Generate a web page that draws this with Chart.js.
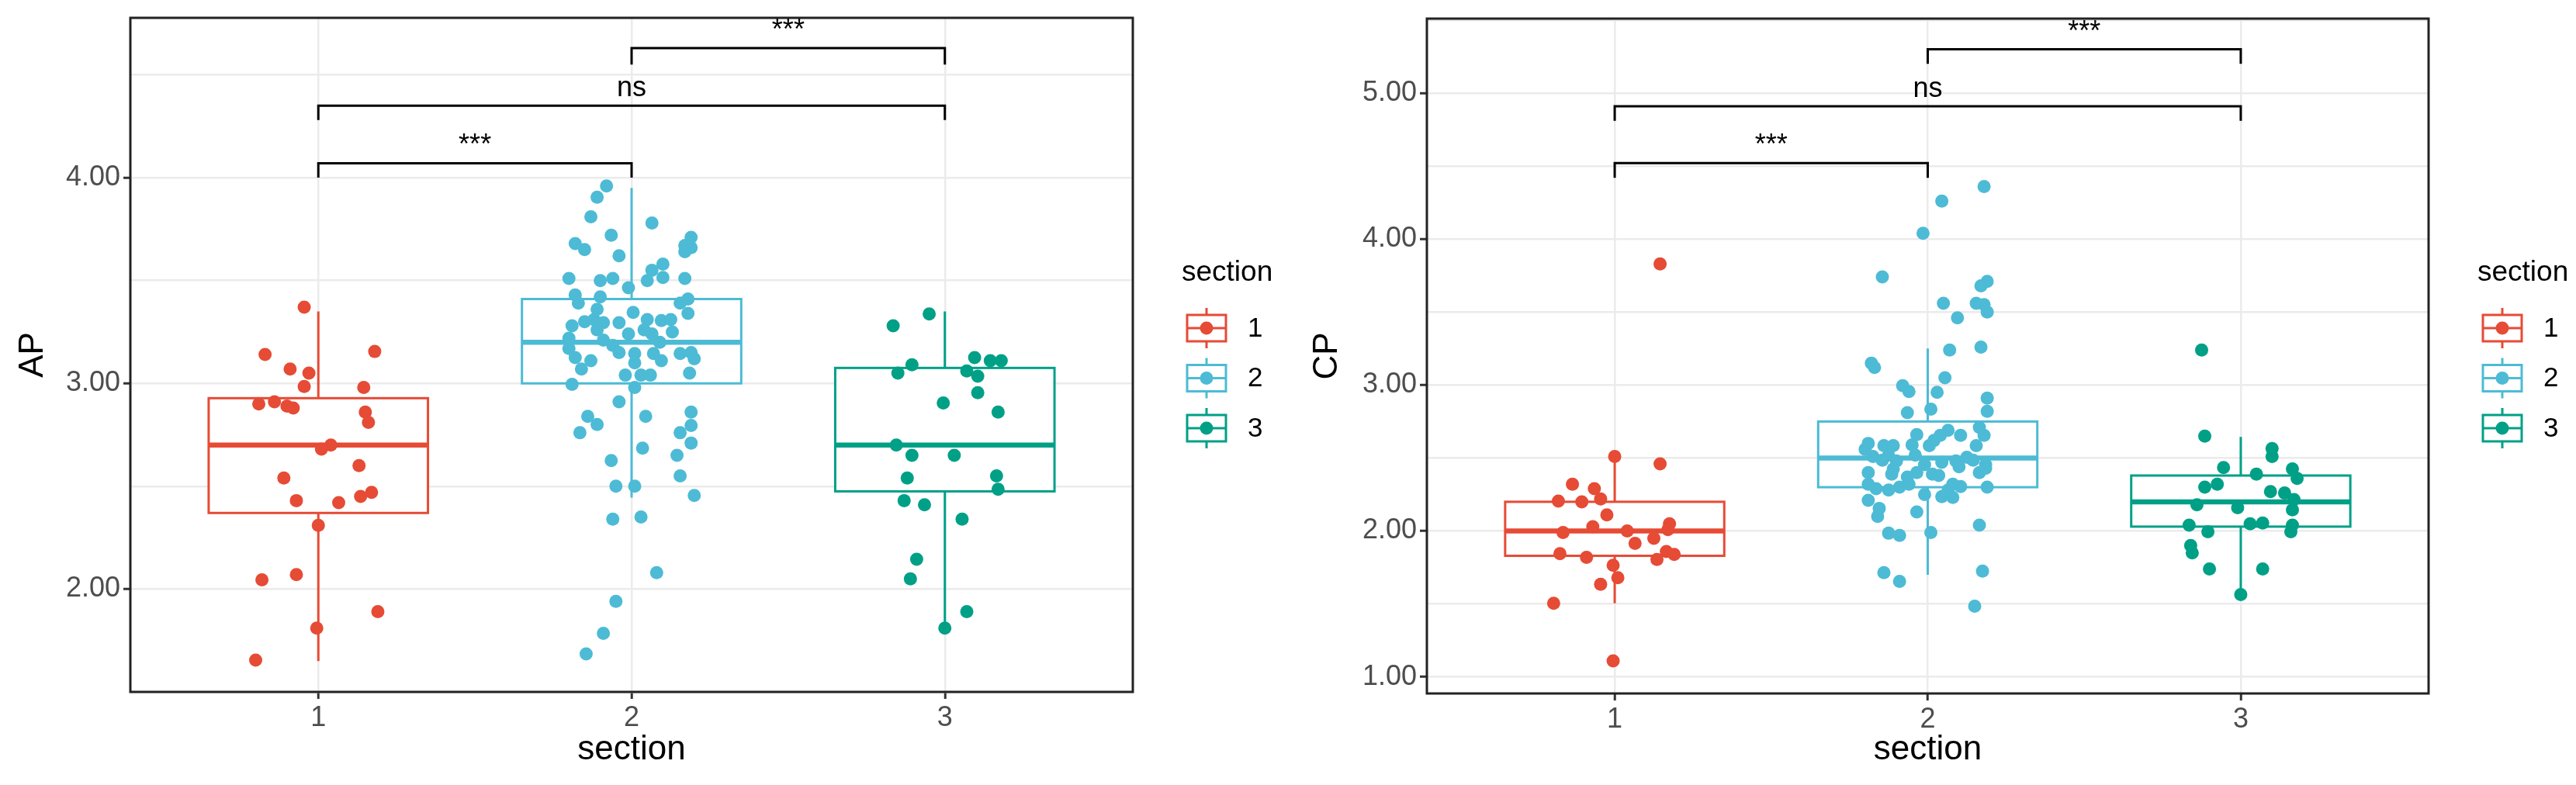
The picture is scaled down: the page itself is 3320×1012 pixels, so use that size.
<!DOCTYPE html>
<html>
<head>
<meta charset="utf-8">
<script src="https://cdn.jsdelivr.net/npm/chart.js@4.4.0/dist/chart.umd.min.js"></script>
<style>
  body { margin: 0; background: #fff; }
  #wrap { display: flex; width: 3320px; height: 1012px; }
  canvas { display: block; }
</style>
</head>
<body>
<div id="wrap">
  <canvas id="apChart" width="1660" height="1012"></canvas>
  <canvas id="cpChart" width="1660" height="1012"></canvas>
</div>
<script>
const sections = ['1', '2', '3'];
const colors = ['#E64B35', '#4DBBD5', '#00A087'];
const xTicks = [1, 2, 3];

// AP, jittered points per section: [jitter, value]
const apSec1 = [[-0.045,3.37],[-0.17,3.14],[0.18,3.155],[-0.09,3.07],[-0.03,3.05],[-0.045,2.985],[0.145,2.98],
  [-0.19,2.90],[-0.14,2.91],[-0.10,2.89],[-0.08,2.88],[0.15,2.86],[0.16,2.81],[0.04,2.70],[0.01,2.68],
  [0.13,2.60],[-0.11,2.54],[-0.07,2.43],[0.065,2.42],[0.135,2.45],[0.17,2.47],[0,2.31],
  [-0.18,2.045],[-0.07,2.07],[0.19,1.89],[-0.005,1.81],[-0.20,1.655]];
const apSec2 = [[-0.08,3.96],[-0.11,3.905],[-0.13,3.81],[0.065,3.78],[-0.065,3.72],[-0.18,3.68],[-0.15,3.65],[-0.04,3.62],
  [0.19,3.71],[0.17,3.67],[0.19,3.66],[0.17,3.64],[0.10,3.58],[0.065,3.55],[0.05,3.50],[0.10,3.515],[0.17,3.51],
  [-0.20,3.51],[-0.10,3.50],[-0.06,3.51],[-0.01,3.465],[-0.18,3.43],[-0.17,3.39],[-0.10,3.42],[-0.11,3.36],
  [0.005,3.345],[0.155,3.39],[0.18,3.41],[0.18,3.34],[-0.19,3.28],[-0.15,3.30],[-0.12,3.31],[-0.09,3.295],
  [-0.04,3.295],[0.05,3.31],[0.095,3.305],[0.125,3.31],[0.13,3.25],[0.04,3.26],[0.065,3.24],[-0.01,3.24],
  [-0.11,3.26],[-0.20,3.22],[-0.09,3.21],[0.09,3.20],[-0.20,3.17],[-0.06,3.185],[-0.04,3.15],[0.01,3.145],
  [0.07,3.145],[0.155,3.145],[0.19,3.15],[-0.18,3.125],[-0.13,3.11],[0.095,3.11],[0.20,3.12],
  [-0.16,3.07],[0.01,3.10],[-0.02,3.04],[0.03,3.04],[0.06,3.04],[0.185,3.05],[-0.19,2.995],[0.01,2.98],
  [-0.04,2.91],[0.045,2.84],[-0.14,2.84],[-0.11,2.80],[-0.165,2.76],[0.19,2.86],[0.19,2.795],[0.155,2.76],
  [0.19,2.71],[0.035,2.685],[0.145,2.65],[-0.065,2.625],[0.155,2.55],[0.20,2.455],[-0.05,2.50],[0.01,2.50],
  [-0.06,2.34],[0.03,2.35],[0.08,2.08],[-0.05,1.94],[-0.09,1.785],[-0.145,1.685]];
const apSec3 = [[-0.05,3.337],[-0.165,3.28],[-0.105,3.09],[-0.15,3.05],[0.095,3.125],[0.145,3.11],[0.18,3.11],[0.07,3.06],
  [0.105,3.035],[0.105,2.955],[-0.005,2.905],[0.17,2.86],[-0.155,2.70],[-0.105,2.65],[0.03,2.65],
  [-0.12,2.54],[0.165,2.55],[0.17,2.485],[-0.13,2.43],[-0.065,2.41],[0.055,2.34],[-0.09,2.145],
  [-0.11,2.05],[0.07,1.89],[0,1.81]];

// CP, jittered points per section: [jitter, value]
const cpSec1 = [[0.145,3.83],[0,2.51],[0.145,2.46],[-0.135,2.32],[-0.065,2.29],[-0.045,2.22],[-0.18,2.205],[-0.105,2.20],
  [-0.025,2.11],[-0.07,2.03],[-0.165,1.99],[0.04,2.00],[0.175,2.05],[0.17,2.01],[0.125,1.95],[0.065,1.915],
  [-0.175,1.845],[-0.09,1.82],[0.135,1.805],[0.165,1.86],[0.19,1.84],[-0.005,1.765],[0.01,1.68],[-0.045,1.635],
  [-0.195,1.505],[-0.005,1.11]];
const cpSec2 = [[0.18,4.36],[0.045,4.26],[-0.015,4.04],[-0.145,3.74],[0.19,3.71],[0.17,3.68],[0.05,3.56],[0.155,3.56],
  [0.18,3.55],[0.19,3.50],[0.095,3.46],[0.17,3.26],[0.07,3.24],[-0.18,3.15],[-0.17,3.12],[0.055,3.05],
  [-0.08,2.995],[-0.06,2.955],[0.03,2.95],[0.19,2.91],[0.19,2.82],[0.01,2.835],[-0.065,2.81],
  [-0.035,2.66],[0.065,2.69],[0.04,2.655],[0.02,2.62],[0.105,2.655],[0.165,2.71],[0.18,2.655],[0.155,2.585],
  [-0.19,2.60],[-0.20,2.56],[-0.14,2.585],[-0.11,2.585],[-0.05,2.59],[0.005,2.585],[-0.125,2.52],[-0.175,2.51],
  [-0.145,2.485],[-0.10,2.48],[-0.04,2.52],[-0.01,2.455],[0.045,2.47],[0.09,2.48],[0.125,2.505],[0.145,2.485],
  [0.185,2.455],[0.10,2.44],[-0.11,2.425],[-0.19,2.40],[-0.115,2.39],[-0.065,2.37],[-0.035,2.40],[0.015,2.39],
  [0.035,2.38],[0.165,2.40],[0.185,2.43],[-0.19,2.32],[-0.165,2.29],[-0.125,2.28],[-0.09,2.30],[-0.06,2.32],
  [0.08,2.32],[0.105,2.305],[0.065,2.28],[0.19,2.30],[-0.01,2.25],[0.045,2.235],[0.08,2.23],[-0.19,2.21],
  [-0.155,2.155],[-0.16,2.10],[-0.035,2.13],[0.165,2.04],[-0.125,1.985],[-0.09,1.97],[0.01,1.99],
  [-0.14,1.715],[-0.09,1.655],[0.175,1.725],[0.15,1.485]];
const cpSec3 = [[-0.125,3.24],[-0.115,2.65],[0.10,2.565],[0.10,2.51],[-0.055,2.435],[0.05,2.39],[0.165,2.425],[0.18,2.36],
  [-0.075,2.32],[-0.115,2.30],[0.095,2.27],[0.14,2.26],[0.17,2.215],[-0.14,2.18],[-0.01,2.16],[0.165,2.145],
  [-0.165,2.04],[-0.105,1.995],[0.03,2.05],[0.07,2.055],[0.165,2.04],[0.16,1.995],[-0.16,1.90],[-0.155,1.85],
  [-0.10,1.74],[0.07,1.74],[0,1.565]];

// box stats per section: [lower whisker, q1, median, q3, upper whisker]
const apBox = [[1.65,2.37,2.70,2.928,3.35],[2.445,3.00,3.20,3.41,3.95],[1.81,2.475,2.70,3.075,3.35]];
const cpBox = [[1.505,1.83,2.00,2.20,2.505],[1.70,2.30,2.50,2.75,3.25],[1.565,2.03,2.20,2.38,2.645]];

// comparisons: [from, to, bar level, tip level, label]
const apComp = [[1,2,4.07,4.00,'***'],[1,3,4.35,4.28,'ns'],[2,3,4.63,4.55,'***']];
const cpComp = [[1,2,4.52,4.42,'***'],[1,3,4.91,4.81,'ns'],[2,3,5.30,5.20,'***']];

const apTicks = [1.5, 2, 2.5, 3, 3.5, 4, 4.5];
const cpTicks = [1, 1.5, 2, 2.5, 3, 3.5, 4, 4.5, 5, 5.5];
const apRange = [1.5, 4.777];
const cpRange = [0.887, 5.51];

const fam = '"Liberation Sans", Arial, Helvetica, sans-serif';

const panelPlugin = {
  id: 'panel',
  beforeDatasetsDraw(chart, args, opts) {
    const {ctx, scales: {x, y}} = chart;
    opts.boxes.forEach((b, i) => {
      const [lo, q1, med, q3, hi] = b;
      const cx = x.getPixelForValue(i + 1);
      const xl = x.getPixelForValue(i + 1 - 0.35);
      const xr = x.getPixelForValue(i + 1 + 0.35);
      ctx.save();
      ctx.strokeStyle = colors[i];
      ctx.lineWidth = 3;
      ctx.beginPath();
      ctx.moveTo(cx, y.getPixelForValue(hi)); ctx.lineTo(cx, y.getPixelForValue(q3));
      ctx.moveTo(cx, y.getPixelForValue(q1)); ctx.lineTo(cx, y.getPixelForValue(lo));
      ctx.stroke();
      ctx.fillStyle = '#fff';
      const top = y.getPixelForValue(q3), bot = y.getPixelForValue(q1);
      ctx.fillRect(xl, top, xr - xl, bot - top);
      ctx.strokeRect(xl, top, xr - xl, bot - top);
      ctx.lineWidth = 6.5;
      ctx.beginPath();
      ctx.moveTo(xl, y.getPixelForValue(med)); ctx.lineTo(xr, y.getPixelForValue(med));
      ctx.stroke();
      ctx.restore();
    });
  },
  afterDatasetsDraw(chart, args, opts) {
    const {ctx, chartArea: a, scales: {x, y}} = chart;
    ctx.save();
    // comparison brackets
    ctx.strokeStyle = '#000';
    ctx.lineWidth = 3;
    ctx.fillStyle = '#000';
    ctx.font = '36px ' + fam;
    ctx.textAlign = 'center';
    ctx.textBaseline = 'alphabetic';
    opts.comps.forEach(([p, q, lvl, tip, lab]) => {
      const x1 = x.getPixelForValue(p), x2 = x.getPixelForValue(q);
      const yb = y.getPixelForValue(lvl), yt = y.getPixelForValue(tip);
      ctx.beginPath();
      ctx.moveTo(x1, yt); ctx.lineTo(x1, yb); ctx.lineTo(x2, yb); ctx.lineTo(x2, yt);
      ctx.stroke();
      ctx.fillText(lab, (x1 + x2) / 2, yb - 12);
    });
    // panel border
    ctx.strokeStyle = '#222';
    ctx.lineWidth = 3;
    ctx.strokeRect(a.left, a.top, a.right - a.left, a.bottom - a.top);
    ctx.restore();
  },
  afterDraw(chart, args, opts) {
    const {ctx, chartArea: a} = chart;
    ctx.save();
    // axis titles
    ctx.fillStyle = '#000';
    ctx.font = '44px ' + fam;
    ctx.textAlign = 'center';
    ctx.textBaseline = 'middle';
    ctx.fillText('section', (a.left + a.right) / 2, 967);
    ctx.save();
    ctx.translate(opts.ytx, (a.top + a.bottom) / 2);
    ctx.rotate(-Math.PI / 2);
    ctx.fillText(opts.ytitle, 0, 0);
    ctx.restore();
    // legend
    const lx = a.right + 63;
    ctx.textAlign = 'left';
    ctx.font = '37px ' + fam;
    ctx.fillText('section', lx, 352);
    sections.forEach((s, i) => {
      const cy = 423 + i * 64.5;
      const kx = a.right + 95;
      ctx.strokeStyle = colors[i];
      ctx.fillStyle = colors[i];
      ctx.lineWidth = 3;
      ctx.beginPath();
      ctx.moveTo(kx, cy - 26); ctx.lineTo(kx, cy - 17);
      ctx.moveTo(kx, cy + 17); ctx.lineTo(kx, cy + 26);
      ctx.moveTo(kx - 25, cy); ctx.lineTo(kx + 25, cy);
      ctx.stroke();
      ctx.strokeRect(kx - 25, cy - 17, 50, 34);
      ctx.beginPath();
      ctx.arc(kx, cy, 8.5, 0, Math.PI * 2);
      ctx.fill();
      ctx.fillStyle = '#000';
      ctx.font = '35px ' + fam;
      ctx.fillText(s, a.right + 148, cy + 1);
    });
    ctx.restore();
  }
};

function makeChart(id, pts, box, comps, ticks, range, title, lay) {
  const datasets = pts.map((p, i) => ({
    label: sections[i],
    data: p.map(d => ({x: i + 1 + d[0], y: d[1]})),
    backgroundColor: colors[i],
    borderWidth: 0,
    pointRadius: 8.5,
    pointHoverRadius: 8.5
  }));
  return new Chart(document.getElementById(id), {
    type: 'scatter',
    data: {datasets},
    options: {
      responsive: false,
      animation: false,
      layout: {padding: {top: lay.top, right: lay.right, left: 0, bottom: 0}},
      plugins: {
        legend: {display: false},
        tooltip: {enabled: false},
        panel: {boxes: box, comps: comps, ytitle: title, ytx: lay.ytx}
      },
      scales: {
        x: {
          type: 'linear', min: 0.4, max: 3.6,
          afterBuildTicks: s => { s.ticks = xTicks.map(v => ({value: v})); },
          afterFit: s => { s.height = lay.xh; s.paddingLeft = 0; s.paddingRight = 0; },
          ticks: {callback: v => sections[v - 1], color: '#4d4d4d', font: {family: fam, size: 36}, padding: 3, autoSkip: false, maxRotation: 0},
          grid: {color: '#ebebeb', lineWidth: 2.5, tickLength: 9, tickColor: '#333', tickWidth: 3},
          border: {display: false}
        },
        y: {
          type: 'linear', min: range[0], max: range[1],
          afterBuildTicks: s => { s.ticks = ticks.map(v => ({value: v})); },
          afterFit: s => { s.width = lay.yw; s.paddingTop = 0; s.paddingBottom = 0; },
          ticks: {callback: v => (v % 1 === 0 ? v.toFixed(2) : ''), color: '#4d4d4d', font: {family: fam, size: 36}, padding: 4, autoSkip: false},
          grid: {color: '#ebebeb', lineWidth: 2.5, tickLength: 9, tickWidth: 3,
            tickColor: c => (c.tick && c.tick.value % 1 === 0 ? '#333' : 'rgba(0,0,0,0)')},
          border: {display: false}
        }
      }
    },
    plugins: [panelPlugin]
  });
}

makeChart('apChart', [apSec1, apSec2, apSec3], apBox, apComp, apTicks, apRange, 'AP',
  {top: 23, right: 200, yw: 168, xh: 120, ytx: 43});
makeChart('cpChart', [cpSec1, cpSec2, cpSec3], cpBox, cpComp, cpTicks, cpRange, 'CP',
  {top: 24, right: 190, yw: 179, xh: 118, ytx: 51});
</script>
</body>
</html>
